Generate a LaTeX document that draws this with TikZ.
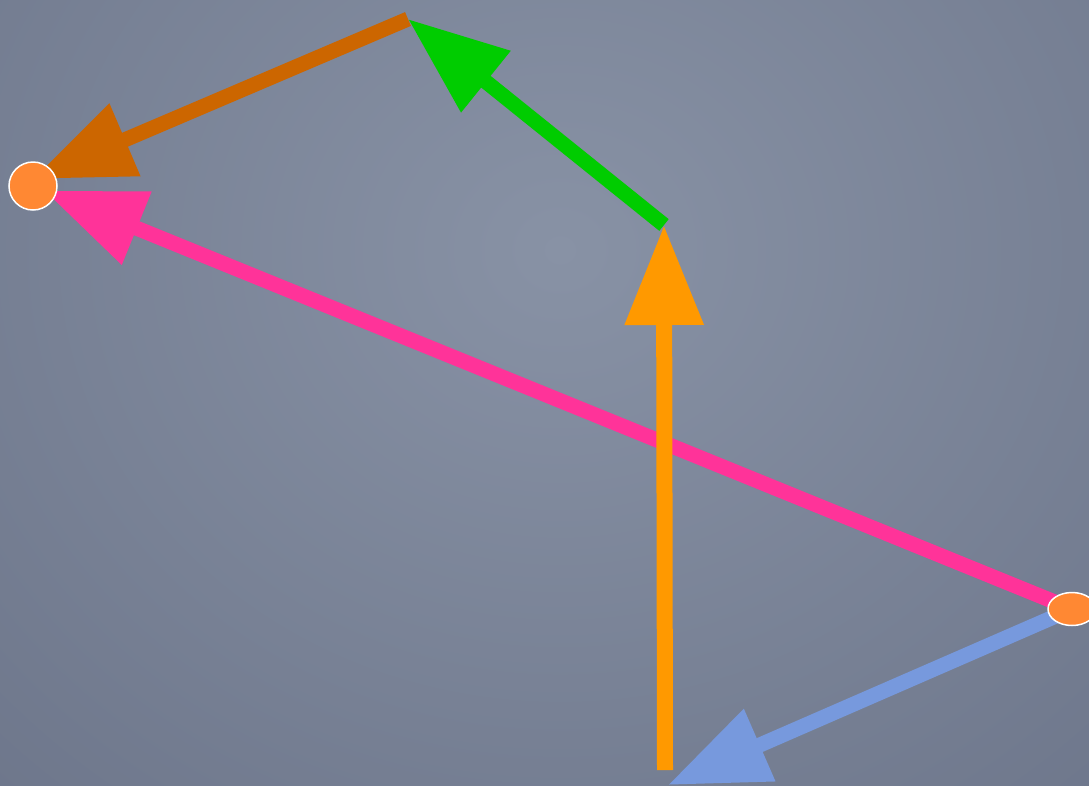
\documentclass[tikz,border=0pt]{standalone}
\definecolor{bgin}{HTML}{8892A5}
\definecolor{bgout}{HTML}{586076}
\definecolor{dotfill}{HTML}{FF8833}
\definecolor{rust}{HTML}{CC6600}
\definecolor{leaf}{HTML}{00CC00}
\definecolor{amber}{HTML}{FF9900}
\definecolor{rose}{HTML}{FF3399}
\definecolor{sky}{HTML}{7799DD}
\usepackage{tikz}
\usetikzlibrary{arrows.meta, shapes.geometric, backgrounds}
\pgfdeclareradialshading{bgglow}{\pgfpoint{0bp}{0bp}}{color(0bp)=(bgin); color(38bp)=(bgout); color(50bp)=(bgout)}

\begin{document}
\begin{tikzpicture}[x=1pt, y=-1pt,
  dot/.style={circle, fill=dotfill, draw=white, line width=1.5pt,
              minimum size=48pt, inner sep=0pt},
  oval/.style={ellipse, fill=dotfill, draw=white, line width=1.5pt,
               minimum width=48pt, minimum height=33pt, inner sep=0pt},
  flow/.style={line width=15pt, -{Triangle[length=100pt, width=75pt]}}
]
\useasboundingbox (0,0) rectangle (1089,785);

\node[dot] (src) at (33,186) {};
\node[oval] (sink) at (1072,609) {};

\coordinate (top) at (408,19);
\coordinate (mid) at (664,225);
\coordinate (base) at (665,770);
\coordinate (low) at (668,785);

\begin{scope}[on background layer]
  \fill[bgout] (0,0) rectangle (1089,785);
  \begin{scope}
    \clip (0,0) rectangle (1089,785);
    \shade[shading=bgglow] (560,250) ellipse [x radius=1000, y radius=900];
  \end{scope}

  \draw[flow, rust] (top) -- ([yshift=7pt]src.center);
  \draw[flow, leaf] (mid) -- (top);
  \draw[flow, rose, shorten >=12pt] (sink.center) -- (src.center);
  \draw[flow, amber, line width=16pt] (base) -- (mid);
  \draw[flow, sky] (sink.center) -- (low);
\end{scope}
\end{tikzpicture}
\end{document}
